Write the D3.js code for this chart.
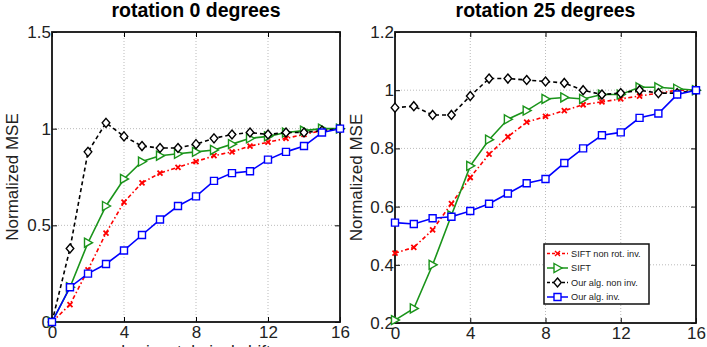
<!DOCTYPE html>
<html>
<head>
<meta charset="utf-8">
<script src="https://cdn.jsdelivr.net/npm/d3@7"></script>
<style>
  body { margin: 0; background: #fff; }
  svg { display: block; font-family: "Liberation Sans", Arial, sans-serif; }
  .grid line { stroke: #bbb; stroke-dasharray: 1,2; }
  .tick text { fill: #222; }
</style>
</head>
<body>
<svg width="707" height="347"></svg>
<script>
    // horizontal shift (pixels)
    const shifts = [0, 1, 2, 3, 4, 5, 6, 7, 8, 9, 10, 11, 12, 13, 14, 15, 16];
    const xTicks = [0, 4, 8, 12, 16];

    const seriesNames = ['SIFT non rot. inv.', 'SIFT', 'Our alg. non inv.', 'Our alg. inv.'];

    // rotation 0 degrees
    const r0SiftNonRot = [0, 0.09, 0.27, 0.46, 0.62, 0.72, 0.77, 0.80, 0.83, 0.86, 0.88, 0.91, 0.93, 0.95, 0.97, 0.99, 1.0];
    const r0Sift = [0, 0.18, 0.41, 0.60, 0.74, 0.83, 0.86, 0.87, 0.88, 0.89, 0.92, 0.95, 0.96, 0.98, 0.99, 1.0, 1.0];
    const r0OurNonInv = [0, 0.38, 0.88, 1.03, 0.96, 0.91, 0.90, 0.90, 0.92, 0.95, 0.97, 0.98, 0.97, 0.98, 0.98, 0.99, 1.0];
    const r0OurInv = [0, 0.18, 0.25, 0.30, 0.37, 0.45, 0.53, 0.60, 0.65, 0.73, 0.77, 0.78, 0.84, 0.88, 0.91, 0.98, 1.0];
    const r0YTicks = [0, 0.5, 1, 1.5];

    // rotation 25 degrees
    const r25SiftNonRot = [0.44, 0.46, 0.52, 0.61, 0.70, 0.78, 0.84, 0.89, 0.91, 0.93, 0.95, 0.96, 0.97, 0.98, 0.99, 1.0, 1.0];
    const r25Sift = [0.21, 0.25, 0.40, 0.57, 0.74, 0.83, 0.90, 0.93, 0.97, 0.975, 0.97, 0.985, 0.985, 1.01, 1.01, 1.005, 1.0];
    const r25OurNonInv = [0.94, 0.945, 0.915, 0.915, 0.98, 1.04, 1.04, 1.035, 1.03, 1.025, 1.0, 0.985, 0.99, 1.0, 0.99, 0.99, 1.0];
    const r25OurInv = [0.545, 0.54, 0.56, 0.565, 0.585, 0.61, 0.645, 0.68, 0.695, 0.75, 0.80, 0.845, 0.855, 0.905, 0.92, 0.985, 1.0];
    const r25YTicks = [0.2, 0.4, 0.6, 0.8, 1, 1.2];

    const styles = [
        {color: '#ff0000', dash: '4,2.5,1.5,2.5', marker: 'x'},
        {color: '#1a941a', dash: null, marker: 'tri'},
        {color: '#000000', dash: '4,3', marker: 'diamond'},
        {color: '#0000ff', dash: null, marker: 'square'}
    ];

    const svg = d3.select('svg');

    const markerPath = (type) => {
        if (type === 'x') return 'M-2.5,-2.5L2.5,2.5M-2.5,2.5L2.5,-2.5';
        if (type === 'tri') return 'M-3.5,-4.5L4.5,0L-3.5,4.5Z';
        if (type === 'diamond') return 'M0,-4.5L3.8,0L0,4.5L-3.8,0Z';
        return 'M-3.5,-3.5L3.5,-3.5L3.5,3.5L-3.5,3.5Z';
    };

    const drawPanel = (props) => {
        const {left, right, top, bottom, yDomain, yTicks, title, series, xLabel, labelX} = props;

        const x = d3.scaleLinear().domain([0, 16]).range([left, right]);
        const y = d3.scaleLinear().domain(yDomain).range([bottom, top]);
        const g = svg.append('g');

        // grid
        const grid = g.append('g').attr('class', 'grid');
        grid.selectAll('line.v').data(xTicks.slice(1, -1))
            .enter().append('line')
            .attr('x1', d => x(d)).attr('x2', d => x(d))
            .attr('y1', top).attr('y2', bottom);
        grid.selectAll('line.h').data(yTicks.slice(1, -1))
            .enter().append('line')
            .attr('x1', left).attr('x2', right)
            .attr('y1', d => y(d)).attr('y2', d => y(d));

        // axes with inward ticks, box on
        const fmt = d3.format('~g');
        g.append('g')
            .attr('transform', `translate(0,${bottom})`)
            .call(d3.axisBottom(x).tickValues(xTicks).tickFormat(fmt).tickSizeInner(-5).tickSizeOuter(0).tickPadding(4))
            .call(a => a.select('.domain').remove())
            .call(a => a.selectAll('text').attr('font-size', 17).attr('font-family', null));
        g.append('g')
            .attr('transform', `translate(${left},0)`)
            .call(d3.axisLeft(y).tickValues(yTicks).tickFormat(fmt).tickSizeInner(-5).tickSizeOuter(0).tickPadding(1))
            .call(a => a.select('.domain').remove())
            .call(a => a.selectAll('text').attr('font-size', 17).attr('font-family', null));
        g.append('g')
            .attr('transform', `translate(0,${top})`)
            .call(d3.axisTop(x).tickValues(xTicks).tickFormat('').tickSizeInner(-5).tickSizeOuter(0))
            .call(a => a.select('.domain').remove());
        g.append('g')
            .attr('transform', `translate(${right},0)`)
            .call(d3.axisRight(y).tickValues(yTicks).tickFormat('').tickSizeInner(-5).tickSizeOuter(0))
            .call(a => a.select('.domain').remove());
        g.selectAll('.tick line').attr('stroke', '#000');

        g.append('rect')
            .attr('x', left).attr('y', top)
            .attr('width', right - left).attr('height', bottom - top)
            .attr('fill', 'none').attr('stroke', '#111').attr('stroke-width', 1.8);

        // lines + markers
        const line = d3.line().x((d, i) => x(shifts[i])).y(d => y(d));
        series.forEach((values, k) => {
            const s = styles[k];
            g.append('path')
                .attr('d', line(values))
                .attr('fill', 'none')
                .attr('stroke', s.color)
                .attr('stroke-width', 1.6)
                .attr('stroke-dasharray', s.dash);
            g.selectAll(null).data(values)
                .enter().append('path')
                .attr('transform', (d, i) => `translate(${x(shifts[i])},${y(d)})`)
                .attr('d', markerPath(s.marker))
                .attr('fill', s.marker === 'x' ? 'none' : '#fff')
                .attr('stroke', s.color)
                .attr('stroke-width', s.marker === 'x' ? 1.8 : 1.4);
        });

        svg.append('text')
            .attr('x', (left + right) / 2).attr('y', 17)
            .attr('text-anchor', 'middle')
            .attr('font-size', 19.5).attr('font-weight', 'bold')
            .text(title);

        svg.append('text')
            .attr('transform', `translate(${labelX},${(top + bottom) / 2}) rotate(-90)`)
            .attr('text-anchor', 'middle')
            .attr('font-size', 17).attr('fill', '#222')
            .text('Normalized MSE');

        if (xLabel) {
            svg.append('text')
                .attr('x', (left + right) / 2).attr('y', 357)
                .attr('text-anchor', 'middle')
                .attr('font-size', 17).attr('fill', '#222')
                .text(xLabel);
        }
        return {x, y};
    };

    drawPanel({
        left: 52, right: 340, top: 32, bottom: 322,
        yDomain: [0, 1.5], yTicks: r0YTicks,
        title: 'rotation 0 degrees',
        series: [r0SiftNonRot, r0Sift, r0OurNonInv, r0OurInv],
        xLabel: 'horizontal pixel shift',
        labelX: 18
    });

    drawPanel({
        left: 395, right: 696, top: 32, bottom: 323,
        yDomain: [0.2, 1.2], yTicks: r25YTicks,
        title: 'rotation 25 degrees',
        series: [r25SiftNonRot, r25Sift, r25OurNonInv, r25OurInv],
        labelX: 362
    });

    // legend (right panel)
    const legend = svg.append('g').attr('transform', 'translate(544,244)');
    legend.append('rect')
        .attr('width', 105).attr('height', 60)
        .attr('fill', '#fff').attr('stroke', '#111').attr('stroke-width', 1.5);
    const rows = legend.selectAll('g.row').data(seriesNames)
        .enter().append('g')
        .attr('transform', (d, i) => `translate(0,${9.5 + i * 14.5})`);
    rows.append('line')
        .attr('x1', 3).attr('x2', 24)
        .attr('stroke', (d, i) => styles[i].color)
        .attr('stroke-width', 1.5)
        .attr('stroke-dasharray', (d, i) => styles[i].dash ? '3,2' : null);
    rows.append('path')
        .attr('transform', 'translate(13.5,0)')
        .attr('d', (d, i) => markerPath(styles[i].marker))
        .attr('fill', (d, i) => styles[i].marker === 'x' ? 'none' : '#fff')
        .attr('stroke', (d, i) => styles[i].color)
        .attr('stroke-width', 1.4);
    rows.append('text')
        .attr('x', 27).attr('dy', '0.35em')
        .attr('font-size', 9.2).attr('fill', '#222')
        .text(d => d);
</script>
</body>
</html>
